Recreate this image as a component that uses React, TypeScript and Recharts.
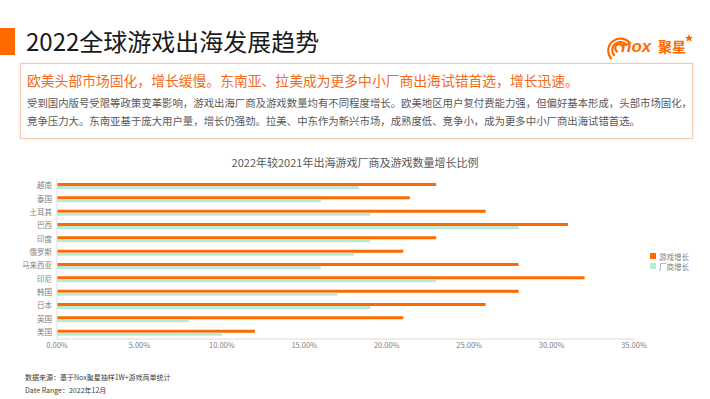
import React from 'react';
import { BarChart, Bar, XAxis, YAxis, Legend } from 'recharts';

const categories = ['越南', '泰国', '土耳其', '巴西', '印度', '俄罗斯', '马来西亚', '印尼', '韩国', '日本', '英国', '美国'];
const gameGrowth = [23, 21.4, 26, 31, 23, 21, 28, 32, 28, 26, 21, 12];
const vendorGrowth = [18.3, 16, 19, 28, 19, 18, 16, 23, 17, 19, 8, 10];
const xTicks = [0, 5, 10, 15, 20, 25, 30, 35];
const seriesNames = ['游戏增长', '厂商增长'];

const data = categories.map((c, i) => ({ name: c, game: gameGrowth[i], vendor: vendorGrowth[i] }));

const ORANGE = '#FF6A00';
const GREEN = '#B8EBD5';
const FONT = '"Noto Sans CJK SC", "Noto Sans", sans-serif';

const LegendContent = () => (
  <div style={{ width: 60, fontFamily: FONT, fontSize: 7.5, color: '#7f7f7f', whiteSpace: 'nowrap' }}>
    {[ORANGE, GREEN].map((col, i) => (
      <div key={i} style={{ display: 'flex', alignItems: 'center', height: 10, width: 60 }}>
        <span style={{ display: 'inline-block', flex: '0 0 6px', width: 6, height: 6, background: col, marginRight: 3 }} />
        <span>{seriesNames[i]}</span>
      </div>
    ))}
  </div>
);

const Logo = () => (
  <svg width={100} height={34} style={{ position: 'absolute', left: 604, top: 26 }}>
    <g fill="none" stroke={ORANGE} strokeWidth={2.2} strokeLinecap="round">
      <path d="M 13 25.5 A 4 4 0 1 1 19 21" />
      <path d="M 10 29 A 8 8 0 1 1 22.5 19" />
      <path d="M 7 32.5 A 12 12 0 1 1 26 17" />
    </g>
    <text x={17} y={26} fill={ORANGE} fontFamily='"Liberation Sans", sans-serif' fontStyle="italic" fontWeight={700} fontSize={17}>nox</text>
    <text x={54} y={26} fill={ORANGE} fontFamily={FONT} fontWeight={700} fontSize={14}>聚星</text>
    <path d="M 85 8 L 86.2 11 L 89.2 11 L 86.8 12.8 L 87.7 15.8 L 85 14 L 82.3 15.8 L 83.2 12.8 L 80.8 11 L 83.8 11 Z" fill={ORANGE} />
  </svg>
);

export default function App() {
  return (
    <div style={{ position: 'absolute', left: 0, top: 0, width: 710, height: 399, background: '#fff', fontFamily: FONT, overflow: 'hidden' }}>
      <div style={{ position: 'absolute', left: 0, top: 28, width: 15, height: 27, background: ORANGE }} />
      <div style={{ position: 'absolute', left: 26, top: 25, fontSize: 24, lineHeight: '32px', color: '#1a1a1a' }}>
        2022全球游戏出海发展趋势
      </div>
      <Logo />
      <div style={{ position: 'absolute', left: 20, top: 63, width: 671, height: 74, border: '1px solid #f6cdb4', boxShadow: '0 0 2px rgba(240,160,120,0.35)', background: '#fff' }} />
      <div style={{ position: 'absolute', left: 27, top: 70, fontSize: 13.8, lineHeight: '20px', color: '#F26B1D', whiteSpace: 'nowrap' }}>
        欧美头部市场固化，增长缓慢。东南亚、拉美成为更多中小厂商出海试错首选，增长迅速。
      </div>
      <div style={{ position: 'absolute', left: 27, top: 94, fontSize: 10.4, lineHeight: '18px', color: '#595959', whiteSpace: 'nowrap' }}>
        <div>受到国内版号受限等政策变革影响，游戏出海厂商及游戏数量均有不同程度增长。欧美地区用户复付费能力强，但偏好基本形成，头部市场固化，</div>
        <div>竞争压力大。东南亚基于庞大用户量，增长仍强劲。拉美、中东作为新兴市场，成熟度低、竞争小，成为更多中小厂商出海试错首选。</div>
      </div>
      <div style={{ position: 'absolute', left: 0, top: 155, width: 710, textAlign: 'center', fontSize: 11, lineHeight: '15px', color: '#595959' }}>
        2022年较2021年出海游戏厂商及游戏数量增长比例
      </div>
      <div style={{ position: 'absolute', left: 0, top: 150 }}>
        <BarChart
          width={710}
          height={212}
          data={data}
          layout="vertical"
          margin={{ top: 29, right: 76, bottom: 3, left: 0 }}
          barSize={3}
          barGap={0}
        >
          <XAxis
            type="number"
            domain={[0, 35]}
            ticks={xTicks}
            tickFormatter={(v: number) => v.toFixed(2) + '%'}
            axisLine={{ stroke: '#e5d8ce' }}
            tickLine={false}
            tickSize={2}
            tickMargin={2}
            height={20}
            tick={{ fontSize: 7.5, fill: '#808080', fontFamily: FONT }}
          />
          <YAxis
            type="category"
            dataKey="name"
            width={57}
            axisLine={{ stroke: '#dcdcdc' }}
            tickLine={false}
            tickSize={0}
            tickMargin={5}
            interval={0}
            tick={{ fontSize: 7.5, fill: '#808080', fontFamily: FONT }}
          />
          <Legend
            layout="vertical"
            align="right"
            verticalAlign="top"
            content={<LegendContent />}
            wrapperStyle={{ left: 650, top: 101, width: 0, height: 0, overflow: 'visible' }}
          />
          <Bar dataKey="game" name={seriesNames[0]} fill={ORANGE} isAnimationActive={false} />
          <Bar dataKey="vendor" name={seriesNames[1]} fill={GREEN} isAnimationActive={false} />
        </BarChart>
      </div>
      <div style={{ position: 'absolute', left: 25, top: 371, fontSize: 7, lineHeight: '12px', color: '#404040', whiteSpace: 'nowrap' }}>
        <div>数据来源：基于Nox聚星抽样1W+游戏商单统计</div>
        <div style={{ marginTop: 1 }}>Date Range：2022年12月</div>
      </div>
    </div>
  );
}
